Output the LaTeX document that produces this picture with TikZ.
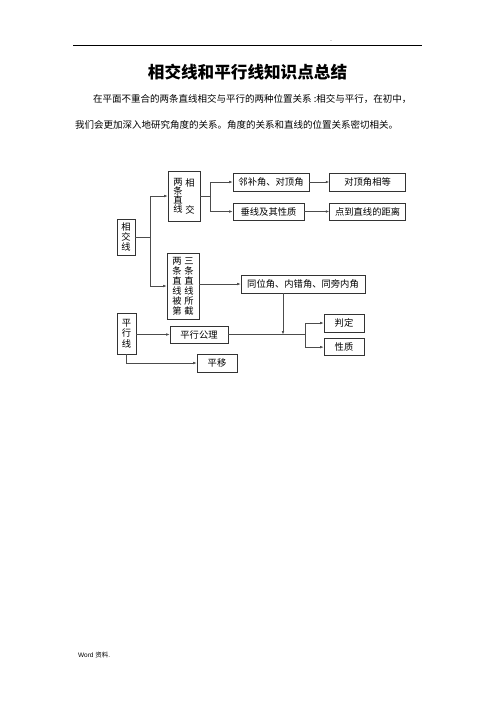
\documentclass[tikz,border=0pt]{standalone}
\usepackage{fontspec}
\setmainfont{Liberation Sans}
\newfontfamily\cjk{Noto Sans CJK SC}
\usetikzlibrary{arrows.meta, positioning}

\begin{document}
\begin{tikzpicture}[
		x=1pt, y=-1pt,
		font=\cjk,
		box/.style={
			draw=black!80,
			line width=0.6pt,
			rectangle,
			inner sep=0pt,
			align=center,
			font=\cjk\fontsize{9.3}{9.8}\selectfont,
			minimum height=18pt
		},
		vcol/.style={
			align=center,
			inner sep=0pt,
			font=\cjk\fontsize{9.3}{9.8}\selectfont
		},
		line/.style={draw=black!70, line width=0.6pt},
		arrow/.style={-{Latex[length=3.5pt,width=2.6pt]}, draw=black!70, line width=0.6pt}
		]
		
		\useasboundingbox (0,0) rectangle (496,702);
		
		% ---- Page header and text ----
		\draw[line width=0.6pt] (73,45) -- (422,45);
		\node[inner sep=0pt, font=\fontsize{4}{4}\selectfont] (hdot) at (331,41) {..};
		
		\node[font=\cjk\fontsize{16.6}{20}\selectfont\bfseries] (title) at (247.5,72)
		{相交线和平行线知识点总结};
		
		\node[anchor=west, inner sep=0pt, font=\cjk\fontsize{9.5}{11}\selectfont] (par1) at (93,99)
		{在平面不重合的两条直线相交与平行的两种位置关系 :相交与平行，在初中，};
		\node[anchor=west, inner sep=0pt, font=\cjk\fontsize{9.5}{11}\selectfont] (par2) at (75,125)
		{我们会更加深入地研究角度的关系。角度的关系和直线的位置关系密切相关。};
		
		% ---- Intersecting lines ----
		\node[box, minimum width=18pt, minimum height=36pt] (xjx) at (126,237) {相\\交\\线};
		
		\node[box, minimum width=32pt, minimum height=50pt] (ltxj) at (184,196) {};
		\node[vcol, font=\cjk\fontsize{9.3}{9}\selectfont] (ltxjl) at ([xshift=-6pt]ltxj.center) {两\\条\\直\\线};
		\node[vcol, font=\cjk\fontsize{9.3}{9}\selectfont] (ltxjr) at ([xshift=6pt]ltxj.center) {相\\\phantom{交}\\\phantom{交}\\交};
		
		\node[box, minimum width=76pt] (lbj) at (271,182) {邻补角、对顶角};
		\node[box, minimum width=76pt, right=20pt of lbj] (ddjxd) {对顶角相等};
		
		\node[box, minimum width=71pt, minimum height=17pt] (cx) at (268.5,211.5) {垂线及其性质};
		\node[box, minimum width=76pt, minimum height=17pt, right=25pt of cx] (jl) {点到直线的距离};
		
		\node[box, minimum width=32pt, minimum height=66pt] (bjie) at (183,286) {};
		\node[vcol, font=\cjk\fontsize{9.3}{10}\selectfont] (bjiel) at ([xshift=-6pt]bjie.center) {两\\条\\直\\线\\被\\第};
		\node[vcol, font=\cjk\fontsize{9.3}{10}\selectfont] (bjier) at ([xshift=6pt]bjie.center) {三\\条\\直\\线\\所\\截};
		
		\node[box, minimum width=124pt] (tw) at (303,284) {同位角、内错角、同旁内角};
		
		% ---- Parallel lines ----
		\node[box, minimum width=19pt, minimum height=41pt, font=\cjk\fontsize{9.3}{10.5}\selectfont] (pxx) at (126.5,333.5) {平\\行\\线};
		\node[box, minimum width=58pt, minimum height=17pt] (gl) at (199,334.5) {平行公理};
		
		\node[box, minimum width=40pt] (pd) at (344,323) {判定};
		\node[box, minimum width=40pt, minimum height=17pt, below=6pt of pd] (xz) {性质};
		
		\node[box, minimum width=40pt] (py) at (217,363) {平移};
		
		% ---- Footer ----
		\node[anchor=west, inner sep=0pt, font=\fontsize{6.5}{7}\selectfont] (foot) at (78,655) {Word {\cjk 资料.}};
		
		% ---- Arrows ----
		\coordinate (fork1) at ([xshift=15pt]xjx.east);
		\draw[line] (xjx.east) -- (fork1);
		\draw[line] (fork1 |- ltxj.west) -- (fork1 |- bjie.west);
		\draw[arrow] (fork1 |- ltxj.west) -- (ltxj.west);
		\draw[arrow] (fork1 |- bjie.west) -- (bjie.west);
		
		\coordinate (fork2) at ([xshift=10pt]ltxj.east);
		\draw[line] (ltxj.east) -- (fork2);
		\draw[line] (fork2 |- lbj.west) -- (fork2 |- cx.west);
		\draw[arrow] (fork2 |- lbj.west) -- (lbj.west);
		\draw[arrow] (fork2 |- cx.west) -- (cx.west);
		
		\draw[arrow] (lbj) -- (ddjxd);
		\draw[arrow] (cx) -- (jl);
		
		\draw[arrow] (bjie.east |- tw.west) -- (tw.west);
		
		\draw[arrow] (pxx.east |- gl.west) -- (gl.west);
		\coordinate (fork3) at ([xshift=77pt]gl.east);
		\draw[line] (gl.east) -- (fork3);
		\draw[line] (fork3 |- pd.west) -- (fork3 |- xz.west);
		\draw[arrow] (fork3 |- pd.west) -- (pd.west);
		\draw[arrow] (fork3 |- xz.west) -- (xz.west);
		
		\coordinate (twd) at ([xshift=-20pt]tw.south);
		\draw[arrow] (twd) -- (twd |- gl.east);
		
		\draw[arrow] (pxx.south) |- (py.west);
		
	\end{tikzpicture}
\end{document}
